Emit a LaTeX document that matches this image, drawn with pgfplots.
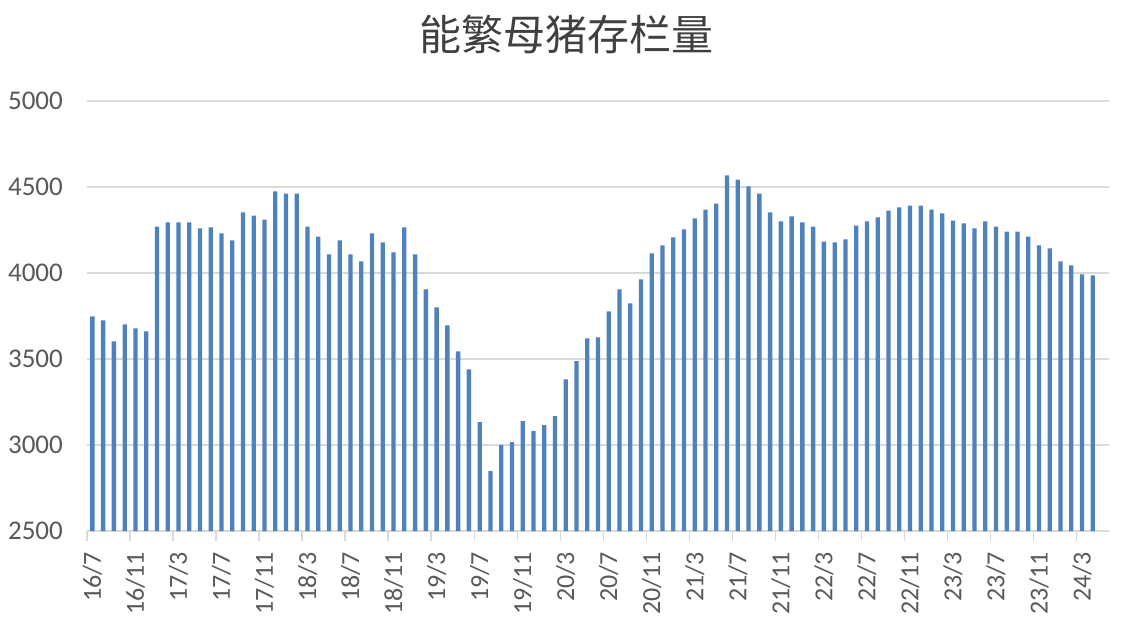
\documentclass[border=0pt]{standalone}
\usepackage{pgfplots}
\pgfplotsset{compat=1.18}
\usepackage{fontspec}
\setmainfont{Carlito}
\newfontfamily\cjk{Noto Sans CJK SC}
\definecolor{barblue}{HTML}{4F81BD}
\definecolor{gridgray}{HTML}{D9D9D9}
\definecolor{labgray}{HTML}{595959}
\definecolor{titlegray}{HTML}{404040}
\pgfplotstableread{
i v
0 3748
1 3725
2 3603
3 3702
4 3678
5 3661
6 4270
7 4294
8 4294
9 4294
10 4259
11 4265
12 4230
13 4189
14 4352
15 4334
16 4311
17 4474
18 4462
19 4462
20 4270
21 4212
22 4108
23 4189
24 4108
25 4067
26 4230
27 4178
28 4120
29 4265
30 4108
31 3905
32 3800
33 3696
34 3545
35 3440
36 3133
37 2848
38 2999
39 3017
40 3139
41 3080
42 3115
43 3168
44 3382
45 3487
46 3620
47 3626
48 3777
49 3905
50 3823
51 3963
52 4114
53 4160
54 4207
55 4253
56 4317
57 4369
58 4404
59 4567
60 4543
61 4503
62 4462
63 4352
64 4300
65 4329
66 4294
67 4270
68 4183
69 4178
70 4195
71 4276
72 4300
73 4323
74 4363
75 4381
76 4392
77 4392
78 4369
79 4346
80 4305
81 4288
82 4259
83 4300
84 4270
85 4241
86 4241
87 4212
88 4160
89 4143
90 4067
91 4044
92 3992
93 3986
}\sows
\begin{document}
\begin{tikzpicture}[x=1pt,y=1pt]
\useasboundingbox (0,0) rectangle (1121,633);
\node[text=titlegray, inner sep=0pt, font=\cjk\fontsize{42}{48}\selectfont] at (566,599) {能繁母猪存栏量};
\begin{axis}[
  at={(87pt,102pt)}, anchor=south west,
  scale only axis, width=1022pt, height=430pt,
  xmin=-0.5, xmax=94.5, ymin=2500, ymax=5000,
  ybar, bar width=4.3pt,
  axis lines*=left,
  x axis line style={draw=gridgray, line width=1.7pt},
  y axis line style={draw=none},
  ytick={2500,3000,...,5000},
  ymajorgrids, grid style={draw=gridgray, line width=1.5pt},
  xtick={0,4,...,92},
  xticklabels={16/7,16/11,17/3,17/7,17/11,18/3,18/7,18/11,19/3,19/7,19/11,20/3,20/7,20/11,21/3,21/7,21/11,22/3,22/7,22/11,23/3,23/7,23/11,24/3},
  minor xtick={-0.5,3.5,...,91.5},
  major tick length=0pt,
  minor tick length=10pt,
  tick align=outside,
  minor x tick style={draw=gridgray, line width=1.5pt},
  ytick style={draw=none},
  /pgf/number format/assume math mode=true,
  /pgf/number format/1000 sep={},
  yticklabel style={text=labgray, font=\fontsize{27}{30}\selectfont, inner sep=0pt, anchor=east},
  yticklabel shift=24pt,
  xticklabel style={text=labgray, font=\fontsize{26}{30}\selectfont, inner sep=0pt, rotate=90, anchor=east},
  xticklabel shift=21pt,
  clip=true,
]
\addplot[fill=barblue, draw=none] table[x=i, y=v] {\sows};
\end{axis}
\end{tikzpicture}
\end{document}
